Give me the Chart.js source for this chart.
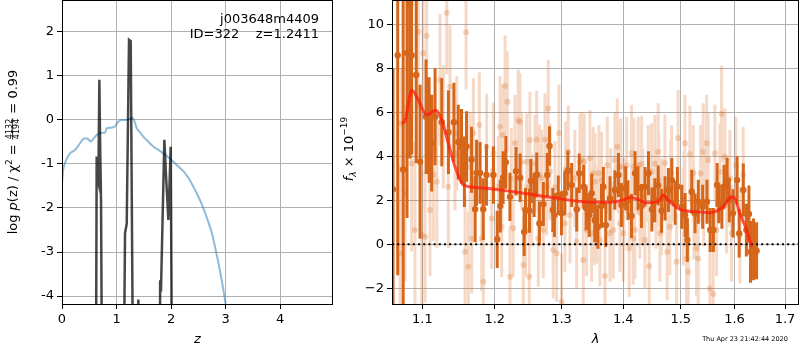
<!DOCTYPE html>
<html>
<head>
<meta charset="utf-8">
<script src="https://cdn.jsdelivr.net/npm/chart.js@4.4.0/dist/chart.umd.min.js"></script>
<style>
  body { margin: 0; background: #fff; width: 800px; height: 350px; position: relative; overflow: hidden; }
  #pz { position: absolute; left: 0; top: 0; }
  #sp { position: absolute; left: 340px; top: 0; }
</style>
</head>
<body>
<canvas id="pz" width="340" height="350"></canvas>
<canvas id="sp" width="460" height="350"></canvas>
<script>
// ---- left panel: log p(z) ----
const zTicks = [0, 1, 2, 3, 4];
const logpTicks = [-4, -3, -2, -1, 0, 1, 2];

const zBlue = [0.0, 0.02, 0.055, 0.1, 0.147, 0.19, 0.24, 0.29, 0.33, 0.37,
  0.40, 0.46, 0.50, 0.53, 0.58, 0.64, 0.70, 0.76, 0.79, 0.82,
  0.88, 0.97, 1.03, 1.10, 1.18, 1.24, 1.28, 1.32, 1.37, 1.43,
  1.49, 1.58, 1.68, 1.77, 1.86, 1.95, 2.04, 2.13, 2.23, 2.32,
  2.41, 2.50, 2.59, 2.67, 2.75, 2.81, 2.87, 2.93, 2.99, 3.02];
const logpBlue = [-1.45, -1.15, -0.98, -0.85, -0.76, -0.72, -0.68, -0.60, -0.53, -0.46,
  -0.42, -0.42, -0.46, -0.49, -0.42, -0.34, -0.30, -0.29, -0.29, -0.19,
  -0.18, -0.15, -0.04, 0.0, 0.0, 0.02, 0.05, 0.0, -0.19, -0.28,
  -0.38, -0.49, -0.61, -0.68, -0.76, -0.85, -0.95, -1.05, -1.17, -1.32,
  -1.52, -1.74, -2.0, -2.27, -2.58, -2.9, -3.26, -3.65, -4.09, -4.35];

const zChi = [0.615, 0.636, 0.655, 0.667, 0.685, 0.70, 0.716, 0.746,
  1.113, 1.156, 1.187, 1.229, 1.26, 1.32,
  1.385, 1.40, 1.415,
  1.786, 1.80, 1.815, 1.877, 1.908, 1.951, 1.994, 2.03];
const logpChi = [-9, -0.83, -1.35, -1.42, 0.91, -0.6, -1.85, -9,
  -9, -2.57, -2.36, 1.82, 1.79, -9,
  -9, -4.08, -9,
  -9, -3.64, -3.9, -0.45, -1.28, -2.27, -0.61, -9];

// ---- right panel: spectrum ----
const lamTicks = [1.1, 1.2, 1.3, 1.4, 1.5, 1.6, 1.7];
const fluxTicks = [-2, 0, 2, 4, 6, 8, 10];

const lamDark = [
  1.062, 1.068, 1.075, 1.080, 1.084, 1.086, 1.092, 1.097, 1.105, 1.109,
  1.1125, 1.117, 1.126, 1.135, 1.1425, 1.1485, 1.153, 1.157, 1.160, 1.167,
  1.172, 1.174, 1.179, 1.1835, 1.188, 1.198, 1.2035, 1.208, 1.212, 1.216,
  1.222, 1.231, 1.237, 1.243, 1.245, 1.251, 1.253, 1.258, 1.262, 1.266,
  1.272, 1.278, 1.2815, 1.2865, 1.289, 1.295, 1.300, 1.305, 1.310, 1.316,
  1.324, 1.328, 1.335, 1.339, 1.344, 1.348, 1.353, 1.358, 1.364, 1.367,
  1.371, 1.378, 1.386, 1.392, 1.397, 1.404, 1.408, 1.414, 1.420, 1.425,
  1.431, 1.437, 1.443, 1.449, 1.454, 1.460, 1.466, 1.472, 1.478, 1.484,
  1.490, 1.494, 1.502, 1.508, 1.512, 1.520, 1.526, 1.532, 1.540, 1.548,
  1.554, 1.560, 1.567, 1.570, 1.576, 1.580, 1.586, 1.590, 1.597, 1.605,
  1.609, 1.617, 1.623, 1.628, 1.631, 1.637, 1.643];
const fluxDark = [
  2.5, 8.6, 3.4, 8.7, 10.9, 8.6, 7.7, 3.75, 5.8, 5.2,
  4.6, 5.8, 5.55, 5.1, 5.55, 4.65, 4.45, 3.3, 4.45, 3.85,
  1.6, 3.25, 3.25, 1.6, 3.15, 3.15, 0.23, 1.74, 3.03, 3.73,
  2.16, 3.32, 3.03, 0.57, 1.56, 1.53, 2.88, 2.24, 3.18, 0.95,
  1.83, 3.15, 4.47, 1.56, 1.33, 2.23, 1.41, 2.32, 3.35, 2.70,
  1.59, 3.23, 2.62, 1.64, 1.33, 2.32, 1.10, 0.80, 1.75, 2.62,
  0.88, 2.09, 2.47, 3.15, 1.79, 2.55, 2.01, 1.29, 3.23, 2.55,
  1.74, 2.62, 3.23, 1.59, 2.01, 2.68, 1.53, 2.09, 2.47, 2.92,
  1.89, 2.62, 1.71, 1.33, 0.20, 2.39, 1.41, 1.94, 1.71, 1.94,
  0.65, 0.65, 2.70, 1.86, 1.71, 2.62, 2.92, 2.01, 1.41, 2.92,
  0.50, 2.47, 0.65, 1.38, -0.34, -0.23, -0.29];
const errDark = [
  5.5, 10, 8, 7.5, 7, 4.5, 4, 3.5, 2.6, 2.4,
  2.2, 2.2, 2.0, 1.9, 1.8, 1.7, 1.7, 1.6, 1.6, 1.5,
  1.5, 1.5, 1.4, 1.4, 1.4, 1.3, 1.3, 1.2, 1.2, 1.2,
  1.1, 1.1, 1.1, 1.1, 1.0, 1.0, 1.0, 1.0, 1.0, 1.0,
  1.0, 1.0, 0.9, 1.0, 1.0, 0.9, 1.0, 1.0, 0.9, 1.0,
  1.0, 0.9, 1.0, 1.0, 1.0, 0.9, 1.0, 1.0, 1.0, 0.9,
  1.0, 1.0, 0.9, 1.0, 1.0, 1.0, 0.9, 1.0, 1.0, 1.0,
  1.0, 0.9, 1.0, 1.0, 1.0, 0.9, 1.0, 1.0, 1.0, 1.0,
  1.0, 0.9, 1.0, 1.0, 1.0, 1.0, 0.9, 1.0, 1.0, 1.0,
  1.0, 1.0, 1.0, 0.9, 1.0, 1.0, 1.0, 1.0, 1.1, 1.1,
  1.1, 1.2, 1.2, 1.3, 1.4, 1.4, 1.3];

const lamLight = [
  1.0710, 1.0727, 1.0774, 1.0860, 1.0904, 1.0947, 1.0992, 1.1010, 1.1036, 1.1058,
  1.1102, 1.1147, 1.1193, 1.1236, 1.1281, 1.1327, 1.1349, 1.1372, 1.1440, 1.1464,
  1.1579, 1.1593, 1.1625, 1.1648, 1.1672, 1.1695, 1.1779, 1.1813, 1.1836, 1.1884,
  1.1955, 1.1979, 1.2051, 1.2075, 1.2100, 1.2109, 1.2148, 1.2182, 1.2221, 1.2240,
  1.2269, 1.2294, 1.2343, 1.2368, 1.2393, 1.2418, 1.2450, 1.2468, 1.2493, 1.2507,
  1.2517, 1.2542, 1.2593, 1.2618, 1.2643, 1.2660, 1.2694, 1.2719, 1.2745, 1.2770,
  1.2795, 1.2821, 1.2872, 1.2898, 1.2924, 1.2960, 1.3002, 1.3054, 1.3065, 1.3106,
  1.3133, 1.3211, 1.3238, 1.3291, 1.3318, 1.3344, 1.3360, 1.3398, 1.3451, 1.3478,
  1.3505, 1.3520, 1.3532, 1.3560, 1.3597, 1.3614, 1.3640, 1.3696, 1.3734, 1.3778,
  1.3790, 1.3833, 1.3861, 1.3900, 1.3920, 1.3944, 1.3960, 1.4000, 1.4010, 1.4057,
  1.4101, 1.4141, 1.4168, 1.4180, 1.4197, 1.4254, 1.4283, 1.4312, 1.4330, 1.4369,
  1.4426, 1.4443, 1.4484, 1.4542, 1.4560, 1.4600, 1.4610, 1.4630, 1.4660, 1.4718,
  1.4758, 1.4806, 1.4820, 1.4836, 1.4926, 1.4954, 1.5045, 1.5060, 1.5075, 1.5106,
  1.5136, 1.5166, 1.5227, 1.5240, 1.5288, 1.5318, 1.5362, 1.5410, 1.5420, 1.5474,
  1.5503, 1.5534, 1.5596, 1.5628, 1.5660, 1.5722, 1.5754, 1.5816, 1.5849, 1.5912,
  1.5944, 1.6027, 1.6104, 1.6168];
const fluxLight = [
  -0.41, 5.5, 2.32, 3.68, 0.65, 9.66, 0.42, 8.68, 0.35, 9.48,
  1.56, 3.15, 2.85, 7.47, 5.35, 10.53, 2.62, 7.16, 4.14, 5.05,
  -0.34, 9.64, -1.02, 3.53, 0.27, 5.05, 5.42, 0.27, -1.70, 4.44,
  1.18, 4.14, 2.62, 5.35, 0.80, 4.97, 7.2, 6.48, -1.47, 3.0,
  0.73, 4.59, 5.65, 5.56, 3.75, -0.94, 0.65, 3.75, 2.6, -1.47,
  4.74, 2.0, 3.68, 4.77, 0.27, 3.15, 3.0, 0.65, 4.77, 2.62,
  6.18, 3.3, -0.26, 2.6, -0.41, 5.05, -2.61, 0.95, 3.4, 4.21,
  1.33, 3.0, 0.12, 3.75, 3.83, -0.71, 3.75, 0.65, 3.91, 0.5,
  3.23, 1.25, 2.85, 1.33, 3.23, 0.20, 2.92, -1.44, 3.60, 0.50,
  2.27, 0.65, 3.83, 4.44, 3.53, 0.95, 3.53, 0.50, 1.82, 3.6,
  -0.18, 4.14, 0.27, 3.53, 0.65, 3.60, 1.44, 3.65, 2.16, 0.20,
  3.23, -0.99, 3.30, 3.68, 2.0, 4.21, 2.92, 0.50, 1.71, 3.70,
  -0.34, 0.80, 2.6, 3.23, -0.79, 4.82, 1.25, 2.14, 4.59, -0.64,
  -1.25, 4.10, 3.23, 1.41, -0.18, -0.64, 3.23, 4.21, 2.0, 4.59,
  3.83, -2.0, -2.26, 4.14, 0.65, 3.30, 5.92, 3.98, 1.79, 3.0,
  0.50, 3.60, 0.42, 3.15];
const errLight = [
  4, 2.5, 4, 4, 4, 3.5, 3.5, 3, 3, 3,
  3, 3, 3, 3, 2.8, 2.8, 2.8, 2.8, 2.6, 2.6,
  2.6, 2.6, 2.5, 2.5, 2.5, 2.5, 2.4, 2.4, 2.4, 2.4,
  2.3, 2.3, 2.3, 2.3, 2.3, 2.3, 2.3, 2.3, 2.3, 2.3,
  2.2, 2.2, 2.3, 2.2, 2.2, 2.2, 2.1, 2.2, 2.2, 2.2,
  2.2, 2.1, 2.2, 2.2, 2.2, 2.3, 2.2, 2.2, 2.1, 2.2,
  2.2, 2.2, 2.2, 2.1, 2.2, 2.2, 2.2, 2.2, 2.2, 2.1,
  2.2, 2.2, 2.1, 2.2, 2.2, 2.2, 2.2, 2.1, 2.2, 2.2,
  2.1, 2.2, 2.2, 2.2, 2.2, 2.1, 2.2, 2.2, 2.2, 2.2,
  2.1, 2.2, 2.2, 2.2, 2.1, 2.2, 2.2, 2.2, 2.1, 2.2,
  2.2, 2.2, 2.1, 2.2, 2.2, 2.2, 2.1, 2.2, 2.2, 2.2,
  2.2, 2.1, 2.2, 2.2, 2.2, 2.2, 2.1, 2.2, 2.2, 2.2,
  2.2, 2.2, 2.1, 2.2, 2.2, 2.2, 2.2, 2.1, 2.2, 2.2,
  2.2, 2.2, 2.2, 2.1, 2.2, 2.2, 2.2, 2.2, 2.1, 2.2,
  2.2, 2.2, 2.2, 2.2, 2.1, 2.2, 2.2, 2.2, 2.2, 2.2,
  2.2, 2.2, 2.2, 2.2];

const lamModel = [1.0732, 1.0774, 1.0861, 1.0947, 1.1058, 1.1102, 1.1182, 1.1259, 1.1349, 1.1440,
  1.1556, 1.1789, 1.2269, 1.2770, 1.3028, 1.3344, 1.3778, 1.4000, 1.4113, 1.4227,
  1.4398, 1.4600, 1.4688, 1.4776, 1.4985, 1.5288, 1.5534, 1.5785, 1.5944, 1.6008,
  1.6104, 1.6234, 1.6331];
const fluxModel = [5.5, 5.6, 7.0, 6.56, 5.88, 5.95, 6.1, 5.65, 4.59, 3.53,
  2.70, 2.57, 2.39, 2.16, 2.05, 1.94, 1.91, 2.01, 2.14, 2.06,
  1.89, 1.94, 2.24, 2.01, 1.59, 1.48, 1.44, 1.71, 2.16, 2.09,
  1.41, 0.65, -0.11];

const lamMin = 1.0607, lamMax = 1.7288;
const FONT = 'DejaVu Sans';
const darkColor = 'rgb(214,102,26)';
const lightColor = 'rgba(214,102,26,0.25)';

function pts(xs, ys) {
  return xs.map((x, i) => ({ x: x, y: ys[i] }));
}
// vertical error segments, separated by gaps
function errSegs(xs, ys, es) {
  const out = [];
  xs.forEach((x, i) => {
    out.push({ x: x, y: ys[i] - es[i] }, { x: x, y: ys[i] + es[i] }, { x: x, y: null });
  });
  return out;
}
function minus(v) {
  return (v < 0 ? '\u2212' : '') + Math.abs(v);
}

function axisOpts(extra) {
  return Object.assign({
    grid: { color: '#b0b0b0', lineWidth: 1, tickColor: '#000', tickLength: 5, tickWidth: 1 },
    border: { display: false },
    ticks: { color: '#000', font: { family: FONT, size: 13 }, padding: 3, autoSkip: false, maxRotation: 0 }
  }, extra);
}
function noPad(s) {
  s.paddingTop = 0; s.paddingBottom = 0; s.paddingLeft = 0; s.paddingRight = 0;
}

function drawBox(ctx, a) {
  ctx.save();
  ctx.strokeStyle = '#000';
  ctx.lineWidth = 1;
  ctx.strokeRect(Math.round(a.left) + 0.5, Math.round(a.top) - 0.5,
    Math.round(a.right - a.left) - 1, Math.round(a.bottom - a.top) + 1);
  ctx.restore();
}

// draws a run of text pieces centred on (cx, cy), optionally rotated
function drawRun(ctx, parts, cx, cy, rotate) {
  ctx.save();
  ctx.translate(cx, cy);
  if (rotate) ctx.rotate(-Math.PI / 2);
  ctx.fillStyle = '#000';
  ctx.textBaseline = 'alphabetic';
  let total = 0;
  parts.forEach(p => {
    ctx.font = p.font;
    p.w = p.frac ? Math.max(ctx.measureText(p.frac[0]).width, ctx.measureText(p.frac[1]).width) + 2
                 : ctx.measureText(p.text).width;
    total += p.w;
  });
  let x = -total / 2;
  parts.forEach(p => {
    ctx.font = p.font;
    if (p.frac) {
      ctx.textAlign = 'center';
      ctx.fillText(p.frac[0], x + p.w / 2, -1);
      ctx.fillText(p.frac[1], x + p.w / 2, 6.5);
      ctx.fillRect(x + 0.5, -0.4, p.w - 1, 0.8);
      ctx.textAlign = 'left';
    } else {
      ctx.textAlign = 'left';
      ctx.fillText(p.text, x, p.dy || 0);
    }
    x += p.w;
  });
  ctx.restore();
}

const pzText = {
  id: 'pzText',
  afterDraw(chart) {
    const ctx = chart.ctx, a = chart.chartArea;
    drawBox(ctx, a);
    ctx.save();
    ctx.fillStyle = '#000';
    ctx.font = '13px "' + FONT + '"';
    ctx.textAlign = 'right';
    ctx.textBaseline = 'middle';
    ctx.fillText('j003648m4409', 319, 20);
    ctx.fillText('ID=322    z=1.2411', 319, 35);
    ctx.textAlign = 'center';
    ctx.font = 'italic 13px "' + FONT + '"';
    ctx.fillText('z', (a.left + a.right) / 2, 340);
    ctx.restore();
    const n = '13px "' + FONT + '"', it = 'italic 13px "' + FONT + '"';
    drawRun(ctx, [
      { text: 'log ', font: n, dy: 4.3 },
      { text: 'p', font: it, dy: 4.3 },
      { text: '(z) / ', font: n, dy: 4.3 },
      { text: '\u03c7', font: n, dy: 4.3 },
      { text: '2', font: '9px "' + FONT + '"', dy: -1 },
      { text: ' = ', font: n, dy: 4.3 },
      { frac: ['4132', '4194'], font: '8px "' + FONT + '"' },
      { text: ' = 0.99', font: n, dy: 4.3 }
    ], 12.7, 152, true);
  }
};

const spText = {
  id: 'spText',
  afterDraw(chart) {
    const ctx = chart.ctx, a = chart.chartArea;
    drawBox(ctx, a);
    ctx.save();
    ctx.fillStyle = '#000';
    ctx.textAlign = 'center';
    ctx.textBaseline = 'middle';
    ctx.font = 'italic 13px "' + FONT + '"';
    ctx.fillText('\u03bb', (a.left + a.right) / 2, 340);
    ctx.font = '6.5px "' + FONT + '"';
    ctx.fillText('Thu Apr 23 21:42:44 2020', 405, 339.5);
    ctx.restore();
    const n = '13px "' + FONT + '"', it = 'italic 13px "' + FONT + '"';
    drawRun(ctx, [
      { text: 'f', font: it, dy: 4.3 },
      { text: '\u03bb', font: 'italic 9px "' + FONT + '"', dy: 7 },
      { text: ' \u00d7 10', font: n, dy: 4.3 },
      { text: '\u221219', font: '9px "' + FONT + '"', dy: -2 }
    ], 8.5, 149, true);
  }
};

new Chart(document.getElementById('pz'), {
  type: 'line',
  data: {
    datasets: [
      { data: pts(zChi, logpChi), borderColor: 'rgba(0,0,0,0.72)', borderWidth: 2.5,
        pointRadius: 0, tension: 0, clip: 0, order: 0 },
      { data: pts(zBlue, logpBlue), borderColor: 'rgba(31,119,180,0.5)', borderWidth: 2,
        pointRadius: 0, cubicInterpolationMode: 'monotone', clip: 0, order: 1 }
    ]
  },
  options: {
    responsive: false,
    animation: false,
    layout: { autoPadding: false, padding: { top: 1, right: 7, left: 0, bottom: 0 } },
    plugins: { legend: { display: false }, tooltip: { enabled: false } },
    scales: {
      x: axisOpts({
        type: 'linear', min: 0, max: 4.97,
        afterBuildTicks: s => { s.ticks = zTicks.map(v => ({ value: v })); },
        afterFit: s => { s.height = 46; noPad(s); }
      }),
      y: axisOpts({
        type: 'linear', min: -4.18, max: 2.70,
        afterBuildTicks: s => { s.ticks = logpTicks.map(v => ({ value: v })); },
        afterFit: s => { s.width = 62; noPad(s); }
      })
    }
  },
  plugins: [pzText]
});

const spY = axisOpts({
  type: 'linear', min: -2.71, max: 11.06,
  afterBuildTicks: s => { s.ticks = fluxTicks.map(v => ({ value: v })); },
  afterFit: s => { s.width = 52; noPad(s); }
});
spY.ticks = Object.assign({}, spY.ticks, { callback: v => minus(v) });

const spX = axisOpts({
  type: 'logarithmic', min: lamMin, max: lamMax,
  afterBuildTicks: s => { s.ticks = lamTicks.map(v => ({ value: v })); },
  afterFit: s => { s.height = 46; noPad(s); }
});
spX.ticks = Object.assign({}, spX.ticks, { callback: v => Number(v).toFixed(1) });

new Chart(document.getElementById('sp'), {
  type: 'line',
  data: {
    datasets: [
      { data: pts(lamModel, fluxModel), borderColor: 'rgba(255,25,10,0.72)', borderWidth: 3,
        pointRadius: 0, cubicInterpolationMode: 'monotone', clip: 0, order: 0 },
      { data: [{ x: lamMin, y: 0 }, { x: lamMax, y: 0 }], borderColor: '#000', borderWidth: 2,
        borderDash: [2, 3.2], pointRadius: 0, clip: 0, order: 1 },
      { data: pts(lamDark, fluxDark), showLine: false, pointRadius: 3.2, pointBorderWidth: 0,
        pointBackgroundColor: darkColor, clip: 0, order: 2 },
      { data: errSegs(lamDark, fluxDark, errDark), borderColor: darkColor, borderWidth: 3,
        borderCapStyle: 'butt', pointRadius: 0, spanGaps: false, clip: 0, order: 3 },
      { data: pts(lamLight, fluxLight), showLine: false, pointRadius: 3, pointBorderWidth: 0,
        pointBackgroundColor: lightColor, clip: 0, order: 4 },
      { data: errSegs(lamLight, fluxLight, errLight), borderColor: lightColor, borderWidth: 3,
        borderCapStyle: 'butt', pointRadius: 0, spanGaps: false, clip: 0, order: 5 }
    ]
  },
  options: {
    responsive: false,
    animation: false,
    layout: { autoPadding: false, padding: { top: 1, right: 1, left: 0, bottom: 0 } },
    plugins: { legend: { display: false }, tooltip: { enabled: false } },
    scales: {
      x: spX,
      y: spY
    }
  },
  plugins: [spText]
});
</script>
</body>
</html>
